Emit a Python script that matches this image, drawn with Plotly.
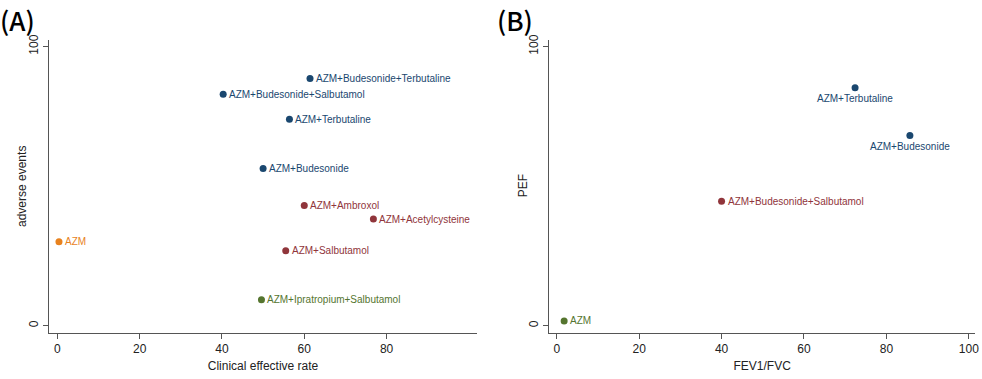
import plotly.graph_objects as go

# Panel A data
a_labels = ["AZM+Budesonide+Terbutaline", "AZM+Budesonide+Salbutamol", "AZM+Terbutaline",
            "AZM+Budesonide", "AZM+Ambroxol", "AZM+Acetylcysteine", "AZM",
            "AZM+Salbutamol", "AZM+Ipratropium+Salbutamol"]
a_x = [61.4, 40.3, 56.4, 50.0, 60.0, 76.8, 0.4, 55.5, 49.6]
a_y = [88.5, 82.9, 73.9, 56.3, 43.0, 38.2, 30.1, 26.8, 9.3]
a_group = ["navy", "navy", "navy", "navy", "maroon", "maroon", "orange", "maroon", "green"]

# Panel B data
b_labels = ["AZM+Terbutaline", "AZM+Budesonide", "AZM+Budesonide+Salbutamol", "AZM"]
b_x = [72.4, 85.7, 40.0, 1.8]
b_y = [85.2, 68.1, 44.6, 1.7]
b_group = ["navy", "navy", "maroon", "green"]
b_pos = ["below", "below", "right", "right"]

a_xticks = [0, 20, 40, 60, 80]
b_xticks = [0, 20, 40, 60, 80, 100]
yticks = [0, 100]

colors = {"navy": "#1a476f", "maroon": "#90353b", "orange": "#e8821e", "green": "#55752f"}
FONT = "Liberation Sans, Arial, sans-serif"
TXT = "#222222"

fig = go.Figure()
fig.add_trace(go.Scatter(x=a_x, y=a_y, mode="markers", xaxis="x", yaxis="y",
                         marker=dict(size=7, color=[colors[g] for g in a_group]),
                         showlegend=False, hoverinfo="skip"))
fig.add_trace(go.Scatter(x=b_x, y=b_y, mode="markers", xaxis="x2", yaxis="y2",
                         marker=dict(size=7, color=[colors[g] for g in b_group]),
                         showlegend=False, hoverinfo="skip"))

annotations = []
for lab, x, y, g in zip(a_labels, a_x, a_y, a_group):
    annotations.append(dict(x=x, y=y, xref="x", yref="y", text=lab, showarrow=False,
                            xanchor="left", yanchor="middle", xshift=4,
                            font=dict(family=FONT, size=10, color=colors[g])))
for lab, x, y, g, p in zip(b_labels, b_x, b_y, b_group, b_pos):
    if p == "right":
        annotations.append(dict(x=x, y=y, xref="x2", yref="y2", text=lab, showarrow=False,
                                xanchor="left", yanchor="middle", xshift=4,
                                font=dict(family=FONT, size=10, color=colors[g])))
    else:
        annotations.append(dict(x=x, y=y, xref="x2", yref="y2", text=lab, showarrow=False,
                                xanchor="center", yanchor="middle", yshift=-11,
                                font=dict(family=FONT, size=10, color=colors[g])))

# panel letters
annotations.append(dict(x=-2 / 982, y=1.0, xref="paper", yref="paper", text="(A)", showarrow=False,
                        xanchor="left", yanchor="top", yshift=1,
                        font=dict(family="Noto Sans CJK SC, sans-serif", size=26, color="#000", weight=500)))
annotations.append(dict(x=495 / 982, y=1.0, xref="paper", yref="paper", text="(B)", showarrow=False,
                        xanchor="left", yanchor="top", yshift=1,
                        font=dict(family="Noto Sans CJK SC, sans-serif", size=26, color="#000", weight=500)))
# y-axis titles
annotations.append(dict(x=22.7 / 982, y=(379 - 186.3) / 379, xref="paper", yref="paper",
                        text="adverse events", textangle=-90, showarrow=False,
                        xanchor="center", yanchor="middle",
                        font=dict(family=FONT, size=12, color=TXT)))
annotations.append(dict(x=523 / 982, y=(379 - 186.3) / 379, xref="paper", yref="paper",
                        text="PEF", textangle=-90, showarrow=False,
                        xanchor="center", yanchor="middle",
                        font=dict(family=FONT, size=12, color=TXT)))

axis_common = dict(showgrid=False, zeroline=False, showline=True, linecolor="#555555", linewidth=1.2,
                   ticks="outside", ticklen=5, tickcolor="#555555", tickwidth=1.2,
                   tickfont=dict(family=FONT, size=12, color=TXT), automargin=False)

fig.update_layout(
    width=982, height=379,
    margin=dict(l=0, r=0, t=0, b=0),
    paper_bgcolor="white", plot_bgcolor="white",
    xaxis=dict(domain=[49.3 / 982, 476.7 / 982], range=[-1.95, 101.9], tickvals=a_xticks,
               anchor="y", title=dict(text="Clinical effective rate", font=dict(family=FONT, size=12, color=TXT), standoff=6),
               **axis_common),
    yaxis=dict(domain=[46.3 / 379, 339 / 379], range=[-2.5, 102.3], tickvals=yticks, tickangle=-90,
               anchor="x", **axis_common),
    xaxis2=dict(domain=[549.3 / 982, 975 / 982], range=[-1.8, 101.5], tickvals=b_xticks,
                anchor="y2", title=dict(text="FEV1/FVC", font=dict(family=FONT, size=12, color=TXT), standoff=6),
                **axis_common),
    yaxis2=dict(domain=[46.3 / 379, 339 / 379], range=[-2.5, 102.3], tickvals=yticks, tickangle=-90,
                anchor="x2", **axis_common),
    annotations=annotations,
)

fig.write_html("out.html", config={"displayModeBar": False},
               post_script="document.body.style.margin='0';document.body.style.overflow='hidden';")
